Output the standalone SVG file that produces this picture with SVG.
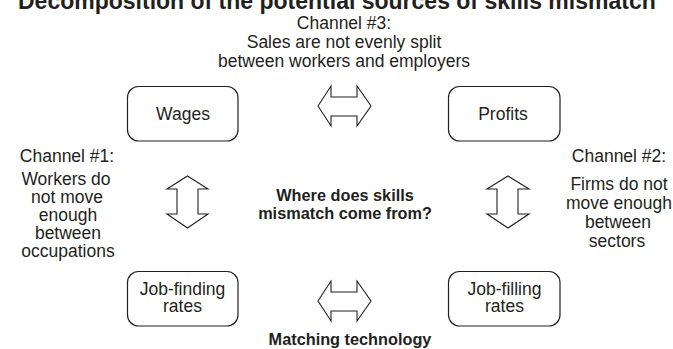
<svg xmlns="http://www.w3.org/2000/svg" width="673" height="349" viewBox="0 0 673 349">
<style>
  .bg{fill:#ffffff}
  .box{fill:#ffffff;stroke:#231f20;stroke-width:1.2}
  .arr{fill:#ffffff;stroke:#231f20;stroke-width:1.1;stroke-linejoin:miter}
  text{font-family:"Liberation Sans",Arial,sans-serif;fill:#231f20;text-anchor:middle}
  .t{font-size:17.5px}
  .b{font-size:16.3px;font-weight:bold}
  .title{font-size:23px;font-weight:bold;text-anchor:start}
</style>
<rect class="bg" x="0" y="0" width="673" height="349"/>
<text class="title" x="18" y="9">Decomposition of the potential sources of skills mismatch</text>

<g id="wages">
  <rect class="box" x="127.5" y="86.5" width="110.5" height="54.5" rx="11"/>
  <text class="t" x="183" y="120">Wages</text>
</g>
<g id="profits">
  <rect class="box" x="448.5" y="86.5" width="111.5" height="54.5" rx="11"/>
  <text class="t" x="503" y="120">Profits</text>
</g>
<g id="job-finding">
  <rect class="box" x="127.5" y="271.5" width="110.5" height="54.5" rx="11"/>
  <text class="t" x="182.5" y="294.5">Job-finding</text>
  <text class="t" x="182.5" y="312">rates</text>
</g>
<g id="job-filling">
  <rect class="box" x="448.5" y="271.5" width="111.5" height="54.5" rx="11"/>
  <text class="t" x="504.5" y="294.5">Job-filling</text>
  <text class="t" x="504.5" y="312">rates</text>
</g>
<g id="center-question">
  <text class="b" x="345" y="201">Where does skills</text>
  <text class="b" x="345" y="219">mismatch come from?</text>
</g>
<g id="channel-3">
  <text class="t" x="344" y="28.5">Channel #3:</text>
  <text class="t" x="344" y="47.5">Sales are not evenly split</text>
  <text class="t" x="344" y="66.5">between workers and employers</text>
</g>
<g id="channel-1">
  <text class="t" x="67" y="162">Channel #1:</text>
  <text class="t" x="66" y="185">Workers do</text>
  <text class="t" x="67" y="203">not move</text>
  <text class="t" x="68" y="221">enough</text>
  <text class="t" x="68" y="239">between</text>
  <text class="t" x="68" y="257">occupations</text>
</g>
<g id="channel-2">
  <text class="t" x="619" y="162">Channel #2:</text>
  <text class="t" x="619" y="190">Firms do not</text>
  <text class="t" x="619" y="209">move enough</text>
  <text class="t" x="618" y="228">between</text>
  <text class="t" x="617" y="247">sectors</text>
</g>
<g id="matching-technology">
  <text class="b" x="350" y="345">Matching technology</text>
</g>

<g id="connectors">
  <polygon class="arr" points="318,106 331,86 331,97 357,97 357,86 371,106 357,126 357,116 331,116 331,126"/>
  <polygon class="arr" points="318,301 331,281 331,292 357,292 357,281 371,301 357,321 357,311 331,311 331,321"/>
  <polygon class="arr" points="187.5,176 208,189 198,189 198,214 208,214 187.5,228 167,214 177,214 177,189 167,189"/>
  <polygon class="arr" points="508,176 529,189 518,189 518,214 529,214 508,228 487,214 497,214 497,189 487,189"/>
</g>
</svg>
